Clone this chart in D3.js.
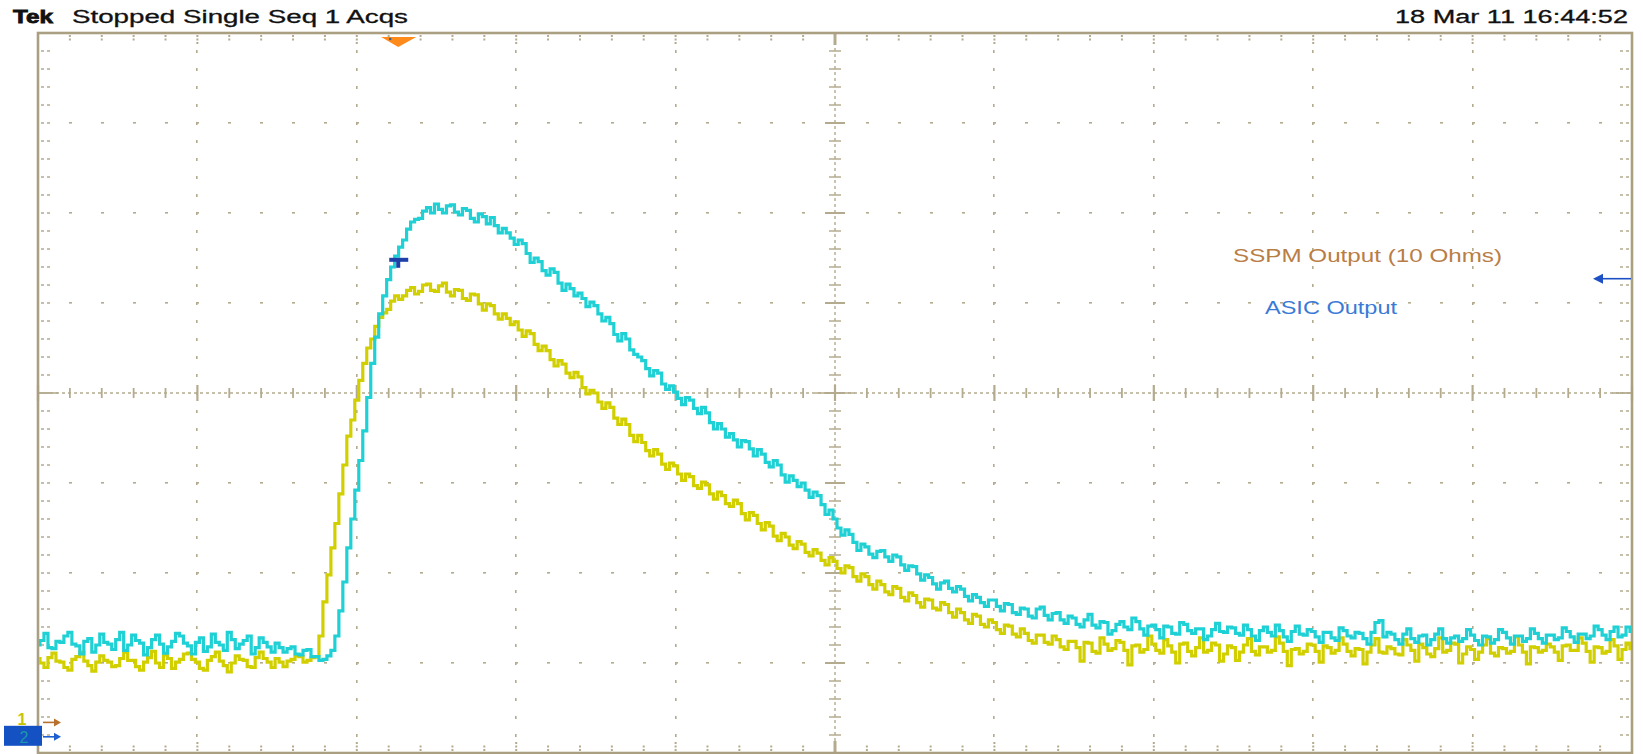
<!DOCTYPE html>
<html><head><meta charset="utf-8">
<script src="https://cdn.jsdelivr.net/npm/d3@7"></script>
<style>html,body{margin:0;padding:0;background:#fff;overflow:hidden} svg{display:block}</style>
</head><body><svg id="c" width="1643" height="754"></svg>
<script>
// ---------- data (vertical values in graticule divisions, one sample every 0.025 div of time) ----------
const sampleStep = 0.025;
const ch2Cyan = [
-2.80,-2.75,-2.67,-2.83,-2.84,-2.76,-2.77,-2.70,-2.66,-2.79,-2.81,-2.90,-2.76,-2.73,-2.88,-2.80,-2.68,-2.77,-2.79,-2.85,
-2.74,-2.66,-2.86,-2.80,-2.69,-2.75,-2.78,-2.91,-2.83,-2.74,-2.69,-2.79,-2.89,-2.82,-2.76,-2.67,-2.70,-2.78,-2.81,-2.90,
-2.77,-2.72,-2.87,-2.82,-2.68,-2.77,-2.80,-2.86,-2.66,-2.74,-2.84,-2.79,-2.75,-2.70,-2.90,-2.83,-2.72,-2.77,-2.82,-2.88,
-2.78,-2.83,-2.88,-2.84,-2.82,-2.90,-2.91,-2.86,-2.85,-2.93,-2.93,-2.97,-2.96,-2.92,-2.86,-2.70,-2.42,-2.10,-1.72,-1.40,
-1.08,-0.75,-0.42,-0.05,0.33,0.62,0.88,1.08,1.26,1.40,1.52,1.62,1.70,1.82,1.90,1.93,1.94,2.02,2.06,2.00,
2.10,2.04,2.00,2.08,2.09,2.01,1.98,2.05,2.03,1.94,1.90,1.99,1.96,1.88,1.95,1.86,1.78,1.83,1.78,1.72,
1.65,1.70,1.66,1.55,1.45,1.50,1.46,1.36,1.31,1.38,1.34,1.22,1.14,1.21,1.16,1.08,1.11,1.05,0.96,1.01,
0.97,0.88,0.80,0.84,0.77,0.65,0.58,0.66,0.60,0.48,0.43,0.40,0.36,0.27,0.19,0.25,0.22,0.10,0.04,0.08,
0.01,-0.06,-0.13,-0.05,-0.08,-0.17,-0.23,-0.16,-0.22,-0.33,-0.40,-0.34,-0.40,-0.49,-0.45,-0.52,-0.60,-0.53,-0.54,-0.62,
-0.70,-0.63,-0.68,-0.77,-0.82,-0.75,-0.80,-0.91,-0.99,-0.92,-0.97,-1.04,-1.00,-1.08,-1.16,-1.10,-1.14,-1.24,-1.35,-1.30,
-1.40,-1.50,-1.58,-1.52,-1.57,-1.66,-1.75,-1.68,-1.71,-1.79,-1.83,-1.76,-1.75,-1.82,-1.87,-1.80,-1.82,-1.91,-1.97,-1.92,
-1.93,-2.01,-2.08,-2.02,-2.05,-2.12,-2.18,-2.11,-2.09,-2.17,-2.21,-2.15,-2.18,-2.26,-2.31,-2.24,-2.27,-2.33,-2.37,-2.30,
-2.30,-2.37,-2.42,-2.34,-2.35,-2.44,-2.46,-2.39,-2.40,-2.48,-2.50,-2.40,-2.38,-2.47,-2.52,-2.45,-2.44,-2.52,-2.56,-2.48,
-2.50,-2.57,-2.60,-2.52,-2.46,-2.58,-2.61,-2.54,-2.55,-2.68,-2.64,-2.57,-2.54,-2.60,-2.63,-2.50,-2.54,-2.62,-2.69,-2.59,
-2.58,-2.63,-2.72,-2.59,-2.60,-2.67,-2.68,-2.55,-2.57,-2.64,-2.67,-2.62,-2.62,-2.74,-2.70,-2.63,-2.56,-2.65,-2.66,-2.60,
-2.61,-2.67,-2.69,-2.58,-2.63,-2.70,-2.75,-2.64,-2.60,-2.66,-2.70,-2.58,-2.64,-2.71,-2.76,-2.65,-2.59,-2.68,-2.69,-2.63,
-2.65,-2.71,-2.77,-2.66,-2.66,-2.72,-2.75,-2.61,-2.64,-2.70,-2.72,-2.66,-2.67,-2.73,-2.79,-2.66,-2.55,-2.53,-2.71,-2.66,
-2.68,-2.74,-2.79,-2.68,-2.62,-2.73,-2.77,-2.70,-2.69,-2.80,-2.74,-2.68,-2.62,-2.73,-2.78,-2.72,-2.70,-2.76,-2.73,-2.63,
-2.69,-2.75,-2.80,-2.70,-2.71,-2.78,-2.74,-2.63,-2.66,-2.72,-2.79,-2.70,-2.70,-2.76,-2.73,-2.62,-2.67,-2.73,-2.78,-2.69,
-2.69,-2.74,-2.72,-2.61,-2.65,-2.71,-2.77,-2.68,-2.68,-2.73,-2.70,-2.59,-2.63,-2.69,-2.74,-2.65,-2.60,-2.71,-2.69,-2.60,
-2.65
];
const ch1Yellow = [
-2.95,-3.00,-3.05,-2.94,-2.89,-2.98,-2.99,-3.05,-3.08,-2.96,-2.93,-2.88,-2.98,-3.03,-3.09,-2.99,-2.92,-2.97,-2.99,-3.04,
-3.03,-2.95,-2.88,-2.97,-2.97,-3.04,-3.08,-2.99,-2.94,-2.87,-3.00,-3.05,-2.91,-2.95,-3.06,-2.99,-2.96,-2.90,-2.89,-2.96,
-2.99,-3.06,-3.08,-2.97,-2.93,-2.88,-2.98,-3.03,-3.10,-3.00,-2.92,-2.96,-2.97,-3.04,-3.05,-2.94,-2.88,-2.95,-2.99,-3.05,
-2.95,-2.99,-3.04,-2.98,-2.96,-2.92,-2.93,-2.99,-2.97,-2.94,-2.93,-2.70,-2.32,-2.02,-1.72,-1.45,-1.12,-0.80,-0.48,-0.30,
-0.08,0.14,0.33,0.50,0.60,0.74,0.84,0.89,0.93,1.02,1.08,1.04,1.08,1.14,1.17,1.10,1.13,1.20,1.21,1.14,
1.13,1.19,1.22,1.12,1.08,1.15,1.14,1.05,1.03,1.10,1.09,0.99,0.92,0.99,0.97,0.88,0.82,0.88,0.83,0.76,
0.79,0.70,0.63,0.69,0.66,0.54,0.47,0.52,0.47,0.37,0.30,0.36,0.32,0.22,0.17,0.23,0.18,0.06,-0.01,0.03,
0.00,-0.10,-0.17,-0.11,-0.16,-0.28,-0.35,-0.29,-0.35,-0.47,-0.54,-0.47,-0.55,-0.64,-0.70,-0.63,-0.68,-0.79,-0.85,-0.78,
-0.81,-0.90,-0.97,-0.90,-0.93,-1.03,-1.06,-0.99,-1.02,-1.12,-1.18,-1.10,-1.14,-1.23,-1.26,-1.19,-1.23,-1.34,-1.41,-1.33,
-1.36,-1.45,-1.52,-1.44,-1.48,-1.59,-1.64,-1.56,-1.60,-1.69,-1.73,-1.65,-1.68,-1.77,-1.81,-1.74,-1.78,-1.86,-1.91,-1.83,
-1.87,-1.95,-2.00,-1.92,-1.94,-2.04,-2.09,-2.01,-2.04,-2.13,-2.18,-2.09,-2.13,-2.21,-2.24,-2.15,-2.17,-2.27,-2.31,-2.22,
-2.25,-2.33,-2.38,-2.29,-2.30,-2.39,-2.41,-2.33,-2.35,-2.44,-2.49,-2.40,-2.44,-2.52,-2.56,-2.46,-2.48,-2.57,-2.60,-2.52,
-2.55,-2.63,-2.67,-2.58,-2.59,-2.68,-2.71,-2.62,-2.67,-2.75,-2.78,-2.69,-2.69,-2.77,-2.79,-2.70,-2.74,-2.82,-2.85,-2.76,
-2.76,-2.83,-2.98,-2.77,-2.78,-2.87,-2.89,-2.72,-2.79,-2.86,-2.84,-2.75,-2.77,-2.86,-3.02,-2.81,-2.80,-2.88,-2.85,-2.70,
-2.79,-2.86,-2.89,-2.74,-2.81,-2.88,-3.00,-2.79,-2.78,-2.87,-2.92,-2.83,-2.72,-2.88,-2.86,-2.78,-2.80,-2.98,-2.90,-2.81,
-2.83,-2.97,-2.88,-2.80,-2.73,-2.87,-2.91,-2.82,-2.82,-2.88,-2.86,-2.71,-2.78,-2.87,-3.03,-2.85,-2.84,-2.90,-2.87,-2.79,
-2.80,-2.87,-2.99,-2.81,-2.83,-2.89,-2.86,-2.72,-2.79,-2.87,-2.92,-2.84,-2.85,-3.01,-2.88,-2.80,-2.73,-2.88,-2.89,-2.82,
-2.84,-2.90,-2.91,-2.74,-2.80,-2.86,-2.98,-2.79,-2.83,-2.90,-2.93,-2.84,-2.72,-2.88,-2.86,-2.78,-2.79,-3.00,-2.90,-2.82,
-2.85,-2.96,-2.88,-2.80,-2.73,-2.89,-2.92,-2.83,-2.84,-2.89,-2.87,-2.71,-2.80,-2.88,-3.01,-2.82,-2.83,-2.88,-2.86,-2.79,
-2.82,-2.88,-2.97,-2.81,-2.80,-2.86,-2.86,-2.72,-2.78,-2.87,-2.99,-2.82,-2.83,-2.89,-2.87,-2.74,-2.81,-2.96,-2.85,-2.78,
-2.84
];
const headerLeft = ["Tek", "Stopped Single Seq 1 Acqs"];
const headerRight = ["18 Mar 11 16:44:52"];
const legendLabels = ["SSPM Output (10 Ohms)", "ASIC Output"];
const timeDivisions = 10;
const voltDivisions = [-4, 4];
const triggerTime = 2.26;
const triggerLevel = 1.48;
const ch2RefLevel = 1.27;
const groundLevels = [-3.66, -3.82];
const channelNames = ["1", "2"];

// ---------- layout ----------
const svg = d3.select("#c");
const plot = {left: 38, right: 1632, top: 33, bottom: 753};
const x = d3.scaleLinear().domain([0, timeDivisions]).range([plot.left, plot.right]);
const y = d3.scaleLinear().domain(voltDivisions).range([plot.bottom, plot.top]);
const gridCol = "#b4ab8e";
const font = "'Liberation Sans', Arial, Helvetica, sans-serif";

svg.append("rect").attr("width", 1643).attr("height", 754).attr("fill", "#fff");

const grid = svg.append("g");
const minorX = d3.range(0, timeDivisions * 5 + 1).map(i => i / 5);
const minorY = d3.range(0, 41).map(i => -4 + i / 5);
const majorXs = d3.range(1, timeDivisions).filter(d => d !== 5);
const majorYs = d3.range(-3, 4).filter(d => d !== 0);

// dotted major lines
majorYs.forEach(v => minorX.forEach(t => {
  if (t > 0 && t < timeDivisions) grid.append("rect")
    .attr("x", Math.round(x(t)) - 1).attr("y", Math.round(y(v)) - 1)
    .attr("width", 3).attr("height", 1.6).attr("fill", gridCol);
}));
majorXs.forEach(t => minorY.forEach(v => {
  if (v > -4 && v < 4) grid.append("rect")
    .attr("x", Math.round(x(t)) - 1).attr("y", Math.round(y(v)) - 1)
    .attr("width", 1.6).attr("height", 3).attr("fill", gridCol);
}));

// centre cross lines
grid.append("line").attr("x1", x(0)).attr("x2", x(timeDivisions)).attr("y1", y(0)).attr("y2", y(0))
  .attr("stroke", gridCol).attr("stroke-width", 1.4).attr("stroke-dasharray", "3,3");
grid.append("line").attr("x1", x(5)).attr("x2", x(5)).attr("y1", y(-4)).attr("y2", y(4))
  .attr("stroke", gridCol).attr("stroke-width", 1.4).attr("stroke-dasharray", "3,3");
minorX.forEach(t => {
  const major = Math.abs(t - Math.round(t)) < 1e-6;
  grid.append("line").attr("x1", x(t)).attr("x2", x(t))
    .attr("y1", y(0) - (major ? 8 : 5)).attr("y2", y(0) + (major ? 8 : 5))
    .attr("stroke", gridCol).attr("stroke-width", major ? 2.2 : 1.8);
});
minorY.forEach(v => {
  const major = Math.abs(v - Math.round(v)) < 1e-6;
  grid.append("line").attr("y1", y(v)).attr("y2", y(v))
    .attr("x1", x(5) - (major ? 10 : 6)).attr("x2", x(5) + (major ? 10 : 6))
    .attr("stroke", gridCol).attr("stroke-width", major ? 2 : 1.5);
});
grid.append("line").attr("x1", x(5) - 20).attr("x2", x(5) + 20).attr("y1", y(0)).attr("y2", y(0))
  .attr("stroke", gridCol).attr("stroke-width", 1.6);
grid.append("line").attr("x1", x(0)).attr("x2", x(0) + 20).attr("y1", y(0)).attr("y2", y(0))
  .attr("stroke", gridCol).attr("stroke-width", 1.6);
grid.append("line").attr("x1", x(10) - 20).attr("x2", x(10)).attr("y1", y(0)).attr("y2", y(0))
  .attr("stroke", gridCol).attr("stroke-width", 1.6);
grid.append("line").attr("x1", x(5)).attr("x2", x(5)).attr("y1", y(4)).attr("y2", y(4) + 12)
  .attr("stroke", gridCol).attr("stroke-width", 3);
grid.append("line").attr("x1", x(5)).attr("x2", x(5)).attr("y1", y(-4)).attr("y2", y(-4) - 12)
  .attr("stroke", gridCol).attr("stroke-width", 3);

// edge ticks
minorX.forEach(t => {
  if (t <= 0 || t >= timeDivisions) return;
  const major = Math.abs(t - Math.round(t)) < 1e-6;
  const len = major ? 9 : 6;
  grid.append("line").attr("x1", x(t)).attr("x2", x(t)).attr("y1", y(4) + 2).attr("y2", y(4) + 2 + len)
    .attr("stroke", gridCol).attr("stroke-width", 2).attr("stroke-dasharray", "2,1.5");
  grid.append("line").attr("x1", x(t)).attr("x2", x(t)).attr("y1", y(-4) - 2).attr("y2", y(-4) - 2 - len)
    .attr("stroke", gridCol).attr("stroke-width", 2).attr("stroke-dasharray", "2,1.5");
});
minorY.forEach(v => {
  if (v <= -4 || v >= 4) return;
  grid.append("line").attr("y1", y(v)).attr("y2", y(v)).attr("x1", x(0) + 3).attr("x2", x(0) + 12)
    .attr("stroke", gridCol).attr("stroke-width", 1.6).attr("stroke-dasharray", "3,3");
  grid.append("line").attr("y1", y(v)).attr("y2", y(v)).attr("x1", x(10) - 12).attr("x2", x(10) - 3)
    .attr("stroke", gridCol).attr("stroke-width", 1.6).attr("stroke-dasharray", "3,3");
});

// frame
svg.append("rect").attr("x", x(0)).attr("y", y(4)).attr("width", x(10) - x(0)).attr("height", y(-4) - y(4))
  .attr("fill", "none").attr("stroke", "#aaa081").attr("stroke-width", 2.6);

// ---------- traces ----------
const line = d3.line().x((d, i) => x(i * sampleStep)).y(d => y(d)).curve(d3.curveStep);
svg.append("clipPath").attr("id", "pc").append("rect")
  .attr("x", x(0) + 1).attr("y", y(4)).attr("width", x(10) - x(0) - 2).attr("height", y(-4) - y(4));
svg.append("path").datum(ch1Yellow).attr("d", line).attr("clip-path", "url(#pc)")
  .attr("fill", "none").attr("stroke", "#d2cf00").attr("stroke-width", 3.2).attr("stroke-linejoin", "miter");
svg.append("path").datum(ch2Cyan).attr("d", line).attr("clip-path", "url(#pc)")
  .attr("fill", "none").attr("stroke", "#1fd0d4").attr("stroke-width", 3.2).attr("stroke-linejoin", "miter");

// ---------- markers ----------
const tx = x(triggerTime);
svg.append("path").attr("d", `M${tx - 17},${y(4) + 4} L${tx + 18},${y(4) + 4} L${tx},${y(4) + 14} Z`).attr("fill", "#ff8a1c");
svg.append("circle").attr("cx", tx - 8).attr("cy", y(4) + 6).attr("r", 1.2).attr("fill", "#3a5a8a");
const ty = y(triggerLevel);
svg.append("rect").attr("x", tx - 9).attr("y", ty - 2).attr("width", 19).attr("height", 4).attr("fill", "#1f3fa8");
svg.append("rect").attr("x", tx - 2).attr("y", ty).attr("width", 4).attr("height", 8).attr("fill", "#1f3fa8");

// right side reference arrow
const ry = y(ch2RefLevel);
svg.append("line").attr("x1", x(10) - 32).attr("x2", x(10) - 1).attr("y1", ry).attr("y2", ry).attr("stroke", "#1c50c4").attr("stroke-width", 1.6);
svg.append("path").attr("d", `M${x(10) - 39},${ry} L${x(10) - 29},${ry - 5} L${x(10) - 29},${ry + 5} Z`).attr("fill", "#1c50c4");

// channel ground markers (bottom left)
const gy1 = y(groundLevels[0]), gy2 = y(groundLevels[1]);
svg.append("rect").attr("x", 4).attr("y", gy2 - 11).attr("width", 38).attr("height", 20).attr("fill", "#1452c4");
svg.append("text").attr("x", 24).attr("y", gy2 + 6).attr("text-anchor", "middle").attr("font-family", font)
  .attr("font-size", 16).attr("fill", "#1f97a6").text(channelNames[1]);
svg.append("text").attr("x", 22).attr("y", gy1 + 3).attr("text-anchor", "middle").attr("font-family", font)
  .attr("font-weight", "bold").attr("font-size", 16).attr("fill", "#c9c400").text(channelNames[0]);
svg.append("line").attr("x1", 43).attr("x2", 55).attr("y1", gy1).attr("y2", gy1).attr("stroke", "#b8702c").attr("stroke-width", 1.6);
svg.append("path").attr("d", `M54,${gy1 - 4} L61,${gy1} L54,${gy1 + 4} Z`).attr("fill", "#b8702c");
svg.append("line").attr("x1", 43).attr("x2", 55).attr("y1", gy2).attr("y2", gy2).attr("stroke", "#1c5fd0").attr("stroke-width", 1.6);
svg.append("path").attr("d", `M54,${gy2 - 4} L61,${gy2} L54,${gy2 + 4} Z`).attr("fill", "#1c5fd0");

// ---------- texts ----------
svg.append("text").attr("x", 13).attr("y", 23).attr("font-family", font).attr("font-weight", "bold")
  .attr("font-size", 18).attr("textLength", 40).attr("lengthAdjust", "spacingAndGlyphs")
  .attr("fill", "#111").attr("stroke", "#111").attr("stroke-width", 0.8).text(headerLeft[0]);
svg.append("text").attr("x", 72).attr("y", 23).attr("font-family", font)
  .attr("font-size", 18).attr("textLength", 336).attr("lengthAdjust", "spacingAndGlyphs")
  .attr("fill", "#111").attr("stroke", "#111").attr("stroke-width", 0.3).text(headerLeft[1]);
svg.append("text").attr("x", 1395).attr("y", 23).attr("font-family", font)
  .attr("font-size", 18).attr("textLength", 233).attr("lengthAdjust", "spacingAndGlyphs")
  .attr("fill", "#111").attr("stroke", "#111").attr("stroke-width", 0.3).text(headerRight[0]);
svg.append("text").attr("x", 1233).attr("y", 262).attr("font-family", font)
  .attr("font-size", 19).attr("textLength", 269).attr("lengthAdjust", "spacingAndGlyphs").attr("fill", "#b97d46").text(legendLabels[0]);
svg.append("text").attr("x", 1265).attr("y", 314).attr("font-family", font)
  .attr("font-size", 19).attr("textLength", 132).attr("lengthAdjust", "spacingAndGlyphs").attr("fill", "#3a7ad6").text(legendLabels[1]);
</script></body></html>
